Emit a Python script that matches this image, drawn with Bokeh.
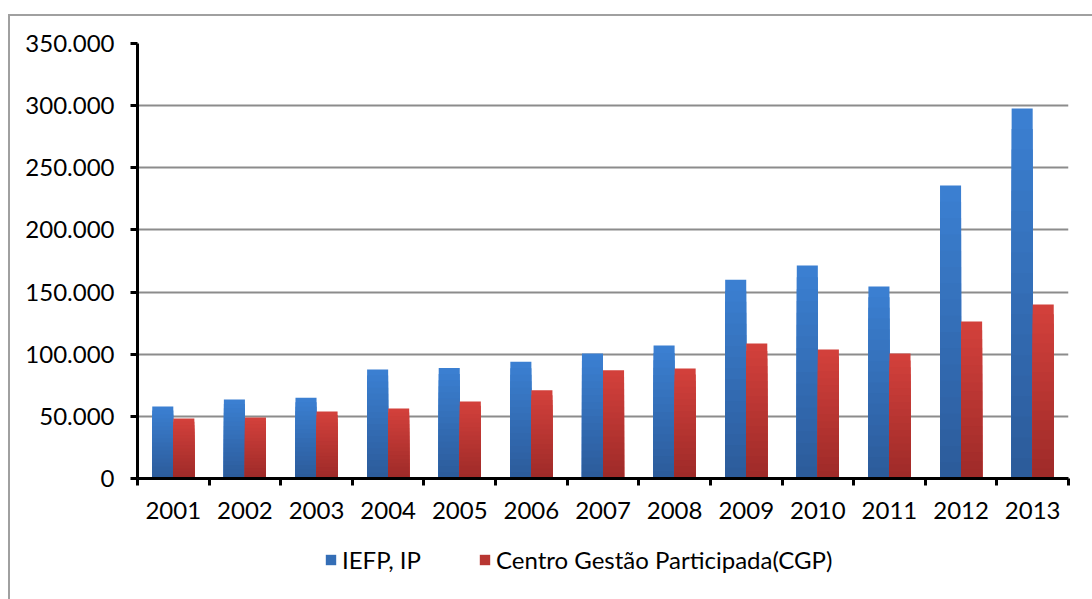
from bokeh.plotting import figure
from bokeh.layouts import column
from bokeh.models import FixedTicker, Legend, LegendItem, ColumnDataSource, Range1d
from bokeh.embed import file_html
from bokeh.resources import INLINE

years = ["2001", "2002", "2003", "2004", "2005", "2006", "2007",
         "2008", "2009", "2010", "2011", "2012", "2013"]
iefp = [58000, 63500, 65000, 87700, 89000, 94000, 100500,
        107000, 160000, 171400, 154500, 235700, 297700]
cgp = [48300, 49000, 54000, 56300, 62000, 71000, 87000,
       88500, 108600, 103800, 100600, 126300, 140000]
series_names = ["IEFP, IP", "Centro Gestão Participada(CGP)"]
y_ticks = [0, 50000, 100000, 150000, 200000, 250000, 300000, 350000]
y_tick_labels = ["0", "50.000", "100.000", "150.000", "200.000",
                 "250.000", "300.000", "350.000"]

FONT = "Lato"
FS = "24px"
BORDER = "#a0a0a0"

p = figure(frame_width=931, frame_height=435, output_backend="svg", toolbar_location=None,
           x_range=Range1d(0, len(years)), y_range=Range1d(0, 350000),
           min_border_left=137, min_border_right=24, min_border_top=43,
           min_border_bottom=60)
p.styles = {
    "background": (f"linear-gradient({BORDER},{BORDER}) 8px 14px / 100% 2px no-repeat, "
                   f"linear-gradient({BORDER},{BORDER}) 8px 14px / 2px 100% no-repeat, white")
}
p.outline_line_color = None
p.background_fill_color = "white"
p.border_fill_alpha = 0


def lerp(c1, c2, t):
    a = [int(c1[i:i + 2], 16) for i in (1, 3, 5)]
    b = [int(c2[i:i + 2], 16) for i in (1, 3, 5)]
    return "#%02x%02x%02x" % tuple(round(a[j] + (b[j] - a[j]) * t) for j in range(3))


x_centers = [i + 0.5 for i in range(len(years))]
bar_w = 0.294
offsets = [-0.147, 0.147]
grads = [("#3b7fd1", "#2c5c9b"), ("#d2403b", "#9f2b29")]
N = 18
for s, vals in enumerate([iefp, cgp]):
    xs = [x + offsets[s] for x in x_centers]
    for k in range(N):
        frac = 1 - k / N
        col = lerp(grads[s][0], grads[s][1], k / (N - 1))
        src = ColumnDataSource(dict(x=xs, top=[v * frac for v in vals]))
        p.vbar(x="x", top="top", bottom=0, width=bar_w, source=src,
               fill_color=col, line_color=None)

# axes
p.yaxis.ticker = FixedTicker(ticks=y_ticks)
p.yaxis.major_label_overrides = {t: l for t, l in zip(y_ticks, y_tick_labels)}
p.yaxis.axis_line_width = 3
p.yaxis.axis_line_color = "black"
p.yaxis.major_tick_line_width = 3
p.yaxis.major_tick_out = 7
p.yaxis.major_tick_in = 0
p.yaxis.minor_tick_line_color = None
p.yaxis.major_label_standoff = 16
p.yaxis.major_label_text_font = FONT
p.yaxis.major_label_text_font_size = FS
p.yaxis.major_label_text_color = "black"

p.xaxis.ticker = FixedTicker(ticks=x_centers, minor_ticks=list(range(len(years) + 1)))
p.xaxis.major_label_overrides = {x: y for x, y in zip(x_centers, years)}
p.xaxis.axis_line_width = 3
p.xaxis.axis_line_color = "black"
p.xaxis.major_tick_line_color = None
p.xaxis.major_tick_out = 7
p.xaxis.minor_tick_line_width = 3
p.xaxis.minor_tick_line_color = "black"
p.xaxis.minor_tick_out = 7
p.xaxis.minor_tick_in = 0
p.xaxis.major_label_standoff = 16
p.xaxis.major_label_text_font = FONT
p.xaxis.major_label_text_font_size = FS
p.xaxis.major_label_text_color = "black"

p.xgrid.grid_line_color = None
p.ygrid.ticker = FixedTicker(ticks=y_ticks)
p.ygrid.grid_line_color = "#8c8c8c"
p.ygrid.grid_line_width = 2

# legend strip
q = figure(width=1092, height=61, output_backend="svg", toolbar_location=None,
           x_range=Range1d(0, 1), y_range=Range1d(0, 1),
           min_border_left=0, min_border_right=0, min_border_top=0, min_border_bottom=0)
q.axis.visible = False
q.grid.visible = False
q.outline_line_color = None
q.background_fill_alpha = 0
q.border_fill_alpha = 0
q.styles = {
    "background": (f"linear-gradient({BORDER},{BORDER}) 8px 0px / 2px 100% no-repeat, white")
}
items = []
for s in range(2):
    # zero-height swatch renderer: only used for the legend glyph
    r = q.vbar(x=[0], top=[0], bottom=[0], width=0.1,
               fill_color=lerp(grads[s][0], grads[s][1], 0.5), line_color=None)
    items.append(LegendItem(label=series_names[s], renderers=[r]))
legend = Legend(items=items, orientation="horizontal", location=(187, 25),
                glyph_width=13, glyph_height=13, label_standoff=5, spacing=57,
                padding=0, margin=0, border_line_color=None,
                background_fill_alpha=0, label_text_font=FONT,
                label_text_font_size=FS, label_text_color="black")
q.add_layout(legend, "center")

layout = column(p, q, spacing=0)
open("out.html", "w").write(file_html(layout, INLINE))
